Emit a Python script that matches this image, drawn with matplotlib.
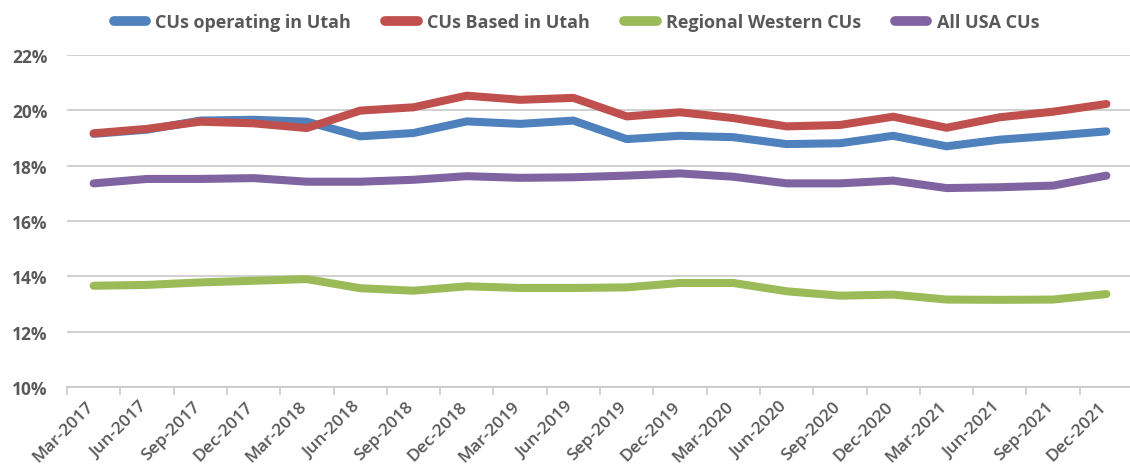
import matplotlib
matplotlib.use("Agg")
import matplotlib.pyplot as plt
import matplotlib.transforms as mtransforms
import numpy as np
from matplotlib.ticker import FuncFormatter, FixedLocator

categories = ["Mar-2017", "Jun-2017", "Sep-2017", "Dec-2017", "Mar-2018", "Jun-2018",
              "Sep-2018", "Dec-2018", "Mar-2019", "Jun-2019", "Sep-2019", "Dec-2019",
              "Mar-2020", "Jun-2020", "Sep-2020", "Dec-2020", "Mar-2021", "Jun-2021",
              "Sep-2021", "Dec-2021"]

cus_operating_utah = [19.15, 19.30, 19.63, 19.66, 19.59, 19.06, 19.18, 19.60, 19.51, 19.63,
                      18.96, 19.08, 19.03, 18.78, 18.81, 19.08, 18.70, 18.94, 19.08, 19.24]
cus_based_utah = [19.17, 19.33, 19.59, 19.53, 19.36, 19.99, 20.11, 20.53, 20.38, 20.45,
                  19.78, 19.93, 19.72, 19.42, 19.47, 19.77, 19.37, 19.75, 19.95, 20.23]
regional_western = [13.66, 13.69, 13.78, 13.84, 13.90, 13.57, 13.48, 13.64, 13.58, 13.58,
                    13.60, 13.76, 13.76, 13.46, 13.30, 13.34, 13.16, 13.15, 13.16, 13.36]
all_usa = [17.36, 17.52, 17.52, 17.55, 17.42, 17.42, 17.49, 17.62, 17.56, 17.58,
           17.64, 17.72, 17.60, 17.36, 17.36, 17.46, 17.19, 17.22, 17.28, 17.64]

series_names = ["CUs operating in Utah", "CUs Based in Utah", "Regional Western CUs", "All USA CUs"]
series_values = [cus_operating_utah, cus_based_utah, regional_western, all_usa]
colors = ["#4F81BD", "#C0504D", "#9BBB59", "#8064A2"]
y_ticks = [10, 12, 14, 16, 18, 20, 22]

plt.rcParams['font.family'] = ['Open Sans', 'DejaVu Sans']
text_color = "#595959"

fig = plt.figure(figsize=(11.3, 4.77), dpi=100)
ax = fig.add_axes([0.0593, 0.1866, 0.9434, 0.696])

x = np.arange(len(categories))
for name, vals, c in zip(series_names, series_values, colors):
    ax.plot(x, vals, color=c, lw=5.8, label=name, solid_capstyle='round', solid_joinstyle='round')

ax.set_xlim(-0.5, len(categories) - 0.5)
ax.set_ylim(10, 22)
ax.set_yticks(y_ticks)
ax.yaxis.set_major_formatter(FuncFormatter(lambda v, p: f"{v:.0f}%"))
ax.grid(axis='y', color='#C8C8C8', lw=1.2)
ax.set_axisbelow(True)

for s in ['left', 'right', 'top']:
    ax.spines[s].set_visible(False)
ax.spines['bottom'].set_color('#C8C8C8')
ax.spines['bottom'].set_linewidth(1.2)

ax.set_xticks(x)
ax.set_xticklabels(categories, rotation=45, ha='right', rotation_mode='anchor',
                   fontsize=12.5, fontweight='semibold', color=text_color)
ax.tick_params(axis='x', which='major', length=0, pad=8)
shift = mtransforms.ScaledTranslation(-8 / 100, 0, fig.dpi_scale_trans)
for lab in ax.get_xticklabels():
    lab.set_transform(lab.get_transform() + shift)
ax.xaxis.set_minor_locator(FixedLocator(np.arange(-0.5, len(categories), 1.0)))
ax.tick_params(axis='x', which='minor', length=6, color='#C8C8C8', width=1.2)
ax.tick_params(axis='y', length=0, pad=14, labelsize=12.5, labelcolor=text_color)
for lab in ax.get_yticklabels():
    lab.set_fontweight('bold')

leg = fig.legend(loc='upper center', bbox_to_anchor=(0.51, 1.005), ncol=4, frameon=False,
                 prop={'size': 13, 'weight': 'bold'}, handlelength=1.8, columnspacing=1.9,
                 handletextpad=0.5)
for t in leg.get_texts():
    t.set_color(text_color)
for h in leg.get_lines():
    h.set_linewidth(7)

fig.savefig("out.png", dpi=100)
